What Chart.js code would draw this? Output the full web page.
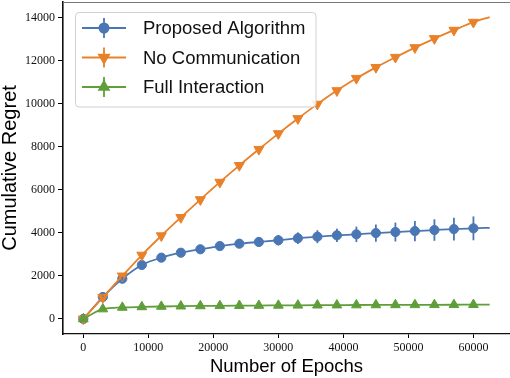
<!DOCTYPE html>
<html><head><meta charset="utf-8">
<script src="https://cdn.jsdelivr.net/npm/chart.js@4.4.0/dist/chart.umd.min.js"></script>
<style>html,body{margin:0;padding:0;background:#fff;}canvas{display:block;}</style>
</head><body>
<canvas id="c" width="510" height="378"></canvas>
<script>
const epochs = [0,3000,6000,9000,12000,15000,18000,21000,24000,27000,30000,33000,36000,39000,42000,45000,48000,51000,54000,57000,60000,62500];
const proposed = [0,1020,1870,2510,2850,3080,3240,3390,3500,3580,3660,3755,3826,3889,3935,3995,4042,4088,4134,4180,4213,4240];
const proposedErr = [0,60,90,110,130,150,170,190,200,220,240,270,300,310,360,400,440,470,500,530,555,0];
const noComm = [0,1000,2000,2970,3870,4720,5550,6360,7140,7890,8620,9320,9990,10620,11190,11700,12170,12620,13040,13430,13800,14040];
const noCommErr = [0,40,45,50,50,55,55,60,60,60,65,65,70,70,70,75,75,75,80,80,80,0];
const full = [0,460,535,560,580,595,605,612,618,624,630,635,640,644,648,651,654,657,659,661,663,665];
const fullErr = [0,30,30,30,30,30,30,30,30,30,30,30,30,30,30,30,30,30,30,30,30,0];
const xTicks = [0,10000,20000,30000,40000,50000,60000];
const yTicks = [0,2000,4000,6000,8000,10000,12000,14000];
const seriesNames = ['Proposed Algorithm','No Communication','Full Interaction'];
const colors = ['#4a77b4','#e9812a','#5f9e3a'];

const values = [proposed, noComm, full];
const errs = [proposedErr, noCommErr, fullErr];
const styles = [{s:'circle',r:4.6,rot:0},{s:'triangle',r:5.8,rot:180},{s:'triangle',r:5.6,rot:0}];

const errorBars = {
  id:'errorBars',
  afterDatasetsDraw(chart){
    const ctx=chart.ctx, xs=chart.scales.x, ys=chart.scales.y;
    ctx.save(); ctx.lineWidth=1.8;
    errs.forEach((err,di)=>{
      ctx.strokeStyle=colors[di];
      err.forEach((e,i)=>{
        if(!e) return;
        const v=values[di][i];
        const px=xs.getPixelForValue(epochs[i]);
        ctx.beginPath();
        ctx.moveTo(px, ys.getPixelForValue(v-e));
        ctx.lineTo(px, ys.getPixelForValue(v+e));
        ctx.stroke();
      });
    });
    ctx.restore();
  }
};

function drawMarker(ctx, st, x, y, color){
  ctx.save(); ctx.fillStyle=color; ctx.strokeStyle=color;
  Chart.helpers.drawPoint(ctx,{pointStyle:st.s,radius:st.r,rotation:st.rot,borderWidth:1},x,y);
  ctx.fill();
  ctx.restore();
}

const frame = {
  id:'frame',
  afterDraw(chart){
    const ctx=chart.ctx, a=chart.chartArea;
    ctx.save();
    ctx.strokeStyle='#777'; ctx.lineWidth=1;
    ctx.beginPath(); ctx.moveTo(a.left, a.top+0.5); ctx.lineTo(a.right, a.top+0.5); ctx.stroke();
    // legend
    const bx=75.5, by=12.5, bw=240.5, bh=94.5, r=3.5;
    ctx.globalAlpha=0.85; ctx.fillStyle='#fff';
    ctx.beginPath(); ctx.roundRect(bx,by,bw,bh,r); ctx.fill();
    ctx.globalAlpha=1; ctx.strokeStyle='#d0d0d0'; ctx.lineWidth=1; ctx.stroke();
    const rows=[28,57.5,87];
    rows.forEach((ry,i)=>{
      ctx.strokeStyle=colors[i]; ctx.lineWidth=1.8;
      ctx.beginPath(); ctx.moveTo(82,ry); ctx.lineTo(126,ry); ctx.stroke();
      ctx.beginPath(); ctx.moveTo(104,ry-10); ctx.lineTo(104,ry+10); ctx.stroke();
      drawMarker(ctx, styles[i], 104, ry, colors[i]);
      ctx.fillStyle='#111'; ctx.font='18.5px "Liberation Sans"'; ctx.textBaseline='middle'; ctx.textAlign='left';
      ctx.fillText(seriesNames[i], 143, ry+1);
    });
    ctx.restore();
  }
};

const datasets = values.map((vals,i)=>({
  label: seriesNames[i],
  data: epochs.map((x,j)=>({x:x,y:vals[j]})),
  borderColor: colors[i],
  backgroundColor: colors[i],
  borderWidth: 1.8,
  pointStyle: styles[i].s,
  pointRotation: styles[i].rot,
  pointRadius: epochs.map((x,j)=> j===epochs.length-1 ? 0 : styles[i].r),
  pointBorderWidth: 1,
  pointBorderColor: colors[i],
  pointBackgroundColor: colors[i],
  cubicInterpolationMode: 'monotone',
  order: 3-i
}));

function zeroPad(s){ s.paddingLeft=0; s.paddingRight=0; s.paddingTop=0; s.paddingBottom=0; }
const tickFont = {family:'"Liberation Serif"', size:12};
new Chart(document.getElementById('c'), {
  type:'line',
  data:{datasets},
  options:{
    responsive:false, animation:false, devicePixelRatio:1,
    layout:{autoPadding:false, padding:{top:2,right:0,left:0,bottom:0}},
    plugins:{legend:{display:false}, tooltip:{enabled:false}},
    scales:{
      x:{type:'linear', min:-3125, max:65625,
        afterBuildTicks:s=>{s.ticks=xTicks.map(v=>({value:v}));},
        afterFit:s=>{s.height=44; zeroPad(s);},
        ticks:{font:tickFont, color:'#111', padding:3, maxRotation:0, autoSkip:false, callback:v=>String(v)},
        grid:{display:true, drawOnChartArea:false, drawTicks:true, tickLength:4, tickColor:'#000', tickWidth:1},
        border:{display:true, color:'#111', width:1.3},
        title:{display:true, text:'Number of Epochs', color:'#000', font:{family:'"Liberation Sans"', size:18.5, lineHeight:1}, padding:{top:0,bottom:2}}
      },
      y:{type:'linear', min:-700, max:14740,
        afterBuildTicks:s=>{s.ticks=yTicks.map(v=>({value:v}));},
        afterFit:s=>{s.width=63; zeroPad(s);},
        ticks:{font:tickFont, color:'#111', padding:3, callback:v=>String(v)},
        grid:{display:true, drawOnChartArea:false, drawTicks:true, tickLength:5, tickColor:'#000', tickWidth:1},
        border:{display:true, color:'#111', width:1.6},
        title:{display:true, text:'Cumulative Regret', color:'#000', font:{family:'"Liberation Sans"', size:20, lineHeight:1}, padding:{top:0,bottom:0}}
      }
    }
  },
  plugins:[errorBars, frame]
});
</script>
</body></html>
